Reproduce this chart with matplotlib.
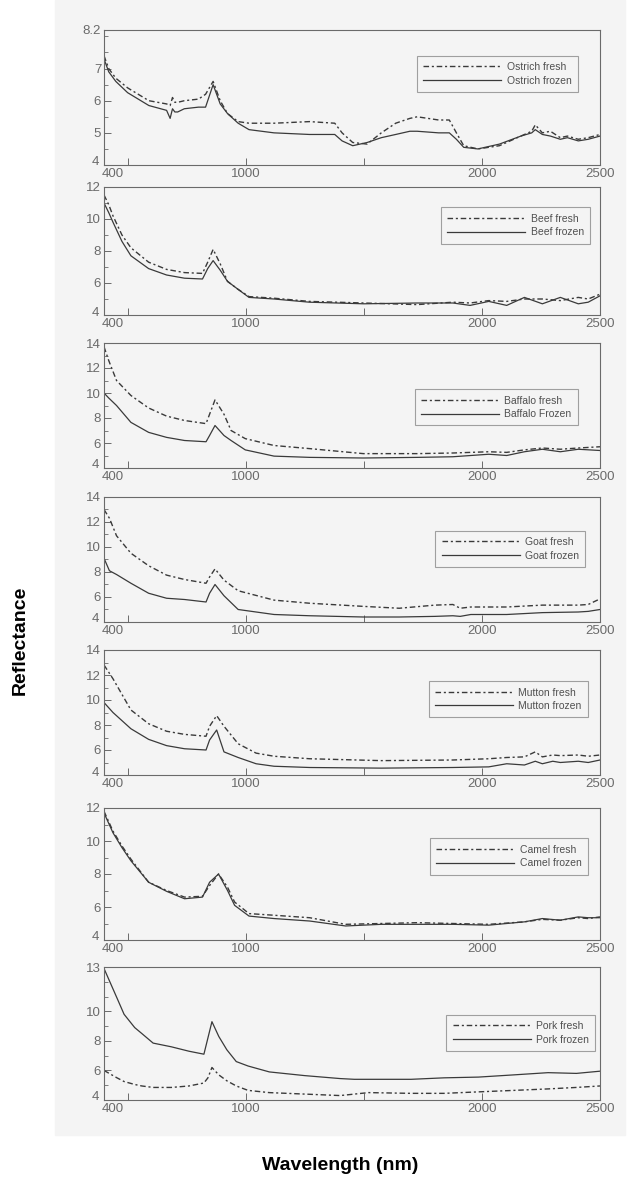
"""NIR reflectance spectra of fresh vs frozen meat (seven stacked panels)."""

import matplotlib.pyplot as plt
from matplotlib.patches import Rectangle
from matplotlib.ticker import AutoMinorLocator
from matplotlib.transforms import ScaledTranslation

plt.rcParams["font.family"] = ["Liberation Sans", "DejaVu Sans"]

# ---- data ----
ostrich_wl = [400, 420, 450, 500, 590, 665, 680, 690, 700, 712, 740, 800, 830, 862, 892,
              923, 968, 1014, 1120, 1270, 1377, 1408, 1453, 1514, 1574, 1635, 1695, 1726,
              1817, 1862, 1892, 1923, 1983, 2074, 2165, 2211, 2226, 2256, 2290, 2332, 2362,
              2408, 2450, 2500]
ostrich_fresh = [7.4, 7.0, 6.7, 6.4, 6.0, 5.9, 5.85, 6.1, 5.95, 5.95, 6.0, 6.05, 6.2, 6.6, 6.0,
                 5.6, 5.35, 5.3, 5.3, 5.35, 5.3, 5.0, 4.7, 4.65, 5.0, 5.3, 5.45, 5.5,
                 5.4, 5.4, 5.0, 4.6, 4.5, 4.6, 4.9, 5.05, 5.25, 5.0, 5.05, 4.85, 4.9,
                 4.8, 4.85, 4.95]
ostrich_frozen = [7.3, 6.9, 6.6, 6.25, 5.85, 5.7, 5.45, 5.75, 5.65, 5.65, 5.75, 5.8, 5.8, 6.5, 5.9,
                  5.6, 5.3, 5.1, 5.0, 4.95, 4.95, 4.75, 4.6, 4.7, 4.85, 4.95, 5.05, 5.05,
                  5.0, 5.0, 4.8, 4.55, 4.5, 4.65, 4.9, 5.0, 5.1, 4.95, 4.9, 4.8, 4.85,
                  4.75, 4.8, 4.9]

beef_wl = [400, 420, 438, 476, 514, 589, 665, 741, 817, 839, 862, 892, 923, 968, 1014,
           1120, 1270, 1500, 1726, 1877, 1950, 2029, 2105, 2180, 2256, 2332, 2408, 2450, 2500]
beef_fresh = [11.5, 10.9, 10.2, 9.0, 8.2, 7.3, 6.85, 6.65, 6.6, 7.3, 8.1, 7.2, 6.1, 5.6, 5.15,
              5.05, 4.85, 4.75, 4.65, 4.8, 4.75, 4.9, 4.85, 5.0, 5.0, 4.9, 5.1, 5.0, 5.3]
beef_frozen = [11.0, 10.4, 9.8, 8.6, 7.7, 6.9, 6.5, 6.3, 6.25, 6.9, 7.4, 6.8, 6.1, 5.6, 5.1,
               5.0, 4.8, 4.7, 4.75, 4.75, 4.6, 4.85, 4.6, 5.1, 4.7, 5.1, 4.7, 4.8, 5.2]

buffalo_wl = [400, 420, 453, 514, 589, 665, 741, 832, 847, 870, 908, 938, 998, 1120, 1271,
              1498, 1726, 1877, 2029, 2105, 2180, 2256, 2332, 2408, 2500]
buffalo_fresh = [13.7, 12.6, 11.0, 9.8, 8.8, 8.15, 7.8, 7.55, 8.3, 9.45, 8.3, 7.0, 6.35, 5.8, 5.55,
                 5.15, 5.15, 5.2, 5.3, 5.25, 5.45, 5.6, 5.5, 5.6, 5.7]
buffalo_frozen = [10.0, 9.6, 9.0, 7.65, 6.85, 6.45, 6.2, 6.1, 6.6, 7.4, 6.6, 6.2, 5.45, 4.95, 4.85,
                  4.8, 4.85, 4.9, 5.1, 5.0, 5.3, 5.5, 5.3, 5.5, 5.4]

goat_wl = [400, 423, 453, 514, 589, 665, 741, 832, 847, 870, 908, 968, 1120, 1271, 1498,
           1650, 1801, 1877, 1908, 1953, 2105, 2256, 2408, 2450, 2500]
goat_fresh = [13.0, 12.3, 10.9, 9.5, 8.5, 7.75, 7.4, 7.1, 7.6, 8.25, 7.35, 6.5, 5.75, 5.5, 5.25,
              5.1, 5.35, 5.4, 5.1, 5.2, 5.2, 5.35, 5.35, 5.4, 5.85]
goat_frozen = [9.1, 8.1, 7.8, 7.1, 6.3, 5.9, 5.8, 5.6, 6.3, 7.0, 6.1, 5.0, 4.6, 4.5, 4.4,
               4.4, 4.45, 4.5, 4.45, 4.6, 4.6, 4.75, 4.8, 4.85, 5.0]

mutton_wl = [400, 438, 514, 589, 665, 741, 832, 847, 877, 908, 968, 1044, 1120, 1271, 1574,
             1877, 2029, 2105, 2180, 2226, 2256, 2300, 2332, 2408, 2450, 2500]
mutton_fresh = [12.8, 11.7, 9.2, 8.1, 7.5, 7.25, 7.1, 7.9, 8.75, 7.9, 6.5, 5.75, 5.5, 5.3, 5.15,
                5.2, 5.3, 5.4, 5.45, 5.85, 5.45, 5.6, 5.55, 5.6, 5.5, 5.6]
mutton_frozen = [9.8, 9.0, 7.7, 6.85, 6.35, 6.1, 6.0, 6.8, 7.6, 5.85, 5.4, 4.9, 4.7, 4.6, 4.55,
                 4.6, 4.65, 4.9, 4.8, 5.1, 4.9, 5.1, 5.0, 5.1, 5.0, 5.2]

camel_wl = [400, 438, 476, 514, 589, 665, 741, 817, 847, 885, 923, 953, 1014, 1120, 1271,
            1423, 1574, 1726, 1877, 2029, 2180, 2256, 2332, 2408, 2450, 2500]
camel_fresh = [11.8, 10.6, 9.7, 8.9, 7.5, 7.0, 6.6, 6.65, 7.3, 8.0, 7.2, 6.3, 5.6, 5.5, 5.35,
               4.95, 5.0, 5.05, 5.0, 4.95, 5.1, 5.25, 5.2, 5.35, 5.3, 5.4]
camel_frozen = [11.7, 10.5, 9.6, 8.8, 7.5, 6.95, 6.5, 6.6, 7.5, 8.0, 7.0, 6.1, 5.45, 5.3, 5.15,
                4.85, 4.95, 4.95, 4.95, 4.9, 5.1, 5.3, 5.2, 5.4, 5.35, 5.35]

pork_wl = [400, 455, 485, 530, 560, 608, 685, 760, 823, 840, 857, 886, 920, 960, 1010,
           1100, 1250, 1400, 1460, 1520, 1700, 1840, 1985, 2135, 2280, 2400, 2500]
pork_fresh = [6.0, 5.5, 5.25, 5.05, 4.95, 4.85, 4.85, 4.95, 5.15, 5.5, 6.2, 5.7, 5.3, 4.95, 4.65,
              4.5, 4.4, 4.3, 4.4, 4.5, 4.45, 4.45, 4.55, 4.65, 4.75, 4.85, 4.95]
pork_frozen = [12.9, 10.9, 9.8, 8.9, 8.5, 7.85, 7.6, 7.3, 7.1, 8.2, 9.3, 8.3, 7.4, 6.6, 6.3,
               5.9, 5.65, 5.45, 5.4, 5.4, 5.4, 5.5, 5.55, 5.7, 5.85, 5.8, 5.95]

fresh_labels = ["Ostrich fresh", "Beef fresh", "Baffalo fresh", "Goat fresh",
                "Mutton fresh", "Camel fresh", "Pork fresh"]
frozen_labels = ["Ostrich frozen", "Beef frozen", "Baffalo Frozen", "Goat frozen",
                 "Mutton frozen", "Camel frozen", "Pork frozen"]
y_ticks = [[4, 5, 6, 7, 8.2], [4, 6, 8, 10, 12], [4, 6, 8, 10, 12, 14], [4, 6, 8, 10, 12, 14],
           [4, 6, 8, 10, 12, 14], [4, 6, 8, 10, 12], [4, 6, 8, 10, 13]]
x_ticks = [400, 500, 1000, 1500, 2000, 2500]
x_tick_labels = ["400", "", "1000", "", "2000", "2500"]

panels = [
    (ostrich_wl, ostrich_fresh, ostrich_frozen),
    (beef_wl, beef_fresh, beef_frozen),
    (buffalo_wl, buffalo_fresh, buffalo_frozen),
    (goat_wl, goat_fresh, goat_frozen),
    (mutton_wl, mutton_fresh, mutton_frozen),
    (camel_wl, camel_fresh, camel_frozen),
    (pork_wl, pork_fresh, pork_frozen),
]

# ---- layout (pixel boxes measured on the 630x1187 reference) ----
W, H = 630, 1187
panel_px = [(30, 165), (187, 315), (343, 468), (497, 622), (650, 775), (808, 940), (967, 1100)]
x_left, x_right = 104, 600
legend_anchor = [(0.955, 0.81), (0.98, 0.84), (0.955, 0.63), (0.97, 0.73),
                 (0.975, 0.75), (0.975, 0.77), (0.99, 0.64)]

ink = "#3a3a3a"
grey = "#6a6a6a"
paper = "#f4f4f4"

fig = plt.figure(figsize=(W / 100, H / 100), dpi=100, facecolor="white")
fig.patches.append(Rectangle((55 / W, 1 - 1135 / H), 570 / W, 1135 / H,
                             transform=fig.transFigure, color=paper, zorder=-10))

for i, ((wl, fresh, frozen), (top, bot)) in enumerate(zip(panels, panel_px)):
    ax = fig.add_axes([x_left / W, 1 - bot / H, (x_right - x_left) / W, (bot - top) / H])
    ax.set_facecolor("none")
    ax.plot(wl, fresh, color=ink, lw=1.0, ls=(0, (4, 2, 1.5, 2)), label=fresh_labels[i])
    ax.plot(wl, frozen, color=ink, lw=0.9, ls="-", label=frozen_labels[i])

    ax.set_xlim(400, 2500)
    ax.set_ylim(y_ticks[i][0], y_ticks[i][-1])
    ax.set_xticks(x_ticks)
    ax.set_xticklabels(x_tick_labels)
    ax.set_yticks(y_ticks[i])
    ax.set_yticklabels([f"{t:g}" for t in y_ticks[i]])
    ax.yaxis.set_minor_locator(AutoMinorLocator(2))
    ax.tick_params(axis="both", direction="in", length=5, width=0.7, color=grey,
                   labelcolor=grey, labelsize=9.5, pad=2)
    ax.tick_params(axis="y", which="minor", direction="in", length=3, width=0.6, color=grey)
    for sp in ax.spines.values():
        sp.set_color(grey)
        sp.set_linewidth(0.8)

    # the scan has "400" nudged right and the bottom "4" sitting a bit high
    ax.get_xticklabels()[0].set_transform(
        ax.get_xticklabels()[0].get_transform() + ScaledTranslation(0.09, 0, fig.dpi_scale_trans))
    ax.get_yticklabels()[0].set_transform(
        ax.get_yticklabels()[0].get_transform() + ScaledTranslation(-0.02, 0.04, fig.dpi_scale_trans))

    leg = ax.legend(loc="upper right", bbox_to_anchor=legend_anchor[i], fontsize=7.5,
                    handlelength=7.5, frameon=True, fancybox=False, borderpad=0.6,
                    labelspacing=0.35, handletextpad=0.5, borderaxespad=0)
    leg.get_frame().set_edgecolor("#8a8a8a")
    leg.get_frame().set_linewidth(0.8)
    leg.get_frame().set_facecolor(paper)
    for t in leg.get_texts():
        t.set_color("#505050")

fig.text(20 / W, 1 - 640 / H, "Reflectance", rotation=90, ha="center", va="center",
         fontsize=14, fontweight="bold", color="black")
fig.text(340 / W, 1 - 1165 / H, "Wavelength (nm)", ha="center", va="center",
         fontsize=14, fontweight="bold", color="black")

fig.savefig("out.png", dpi=100, facecolor="white")
